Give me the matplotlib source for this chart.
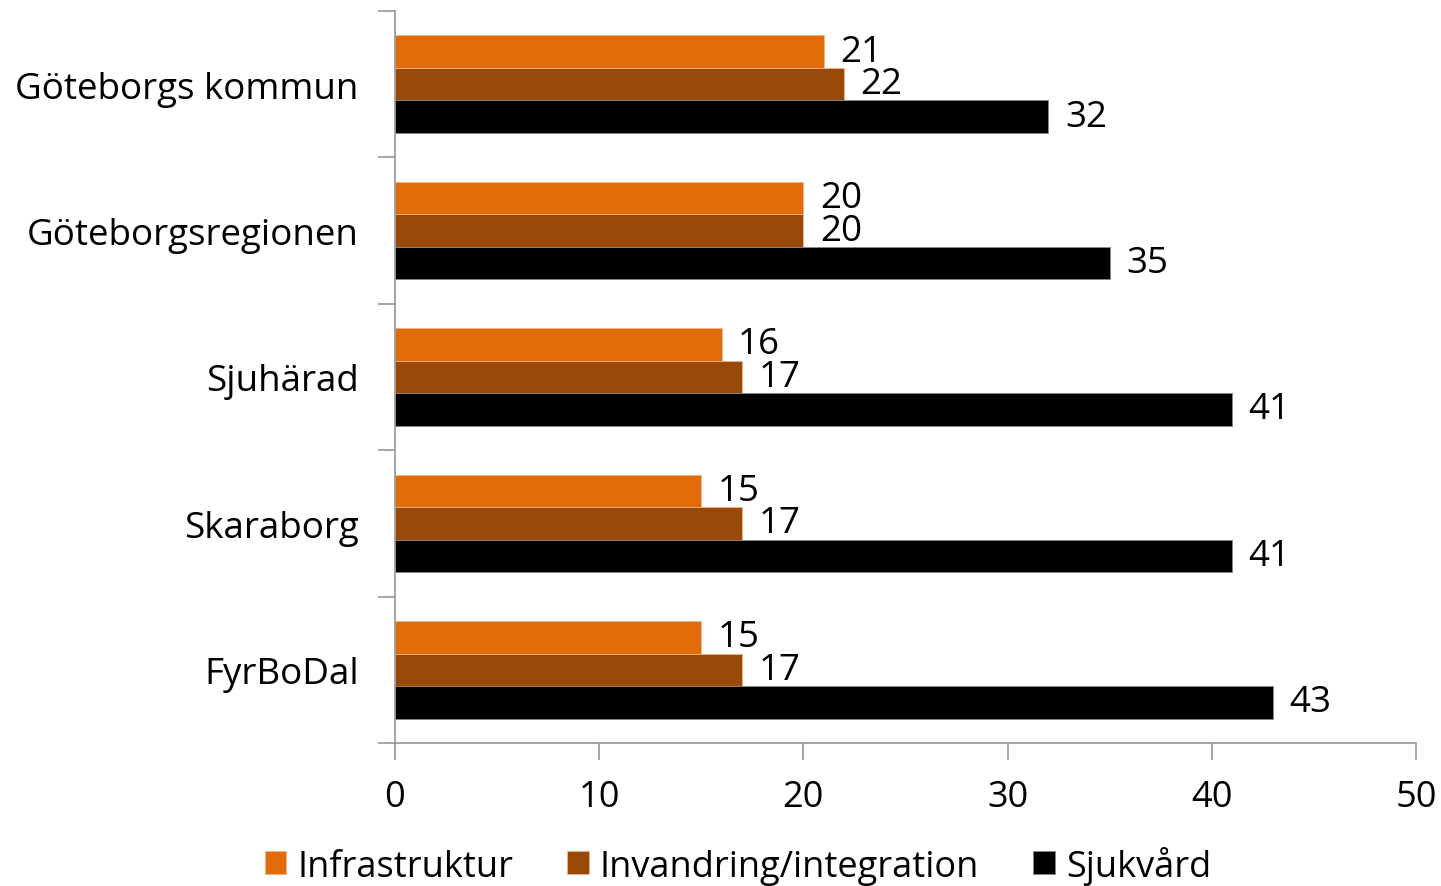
import numpy as np
import matplotlib.pyplot as plt
from matplotlib.ticker import FixedLocator

plt.rcParams['font.family'] = ['Open Sans', 'DejaVu Sans']

# data
regions = ['Göteborgs kommun', 'Göteborgsregionen', 'Sjuhärad', 'Skaraborg', 'FyrBoDal']
infrastruktur = [21, 20, 16, 15, 15]
invandring = [22, 20, 17, 17, 17]
sjukvard = [32, 35, 41, 41, 43]
series_names = ['Infrastruktur', 'Invandring/integration', 'Sjukvård']
colors = ['#E36C0A', '#984807', '#000000']

fig = plt.figure(figsize=(14.41, 8.87), dpi=100)
ax = fig.add_axes([0.2741, 0.1612, 0.7086, 0.8253])

y = np.arange(len(regions))
h = 0.222
for i, (vals, name, c) in enumerate(zip([infrastruktur, invandring, sjukvard], series_names, colors)):
    pos = y + (i - 1) * h
    ax.barh(pos, vals, height=h, color=c, edgecolor='#F2B486' if i < 2 else '#888888',
            linewidth=0.6, label=name)
    for p, v in zip(pos, vals):
        ax.text(v + 0.8, p, str(v), va='center', ha='left', fontsize=26.5, color='#000000')

ax.set_xlim(0, 50)
ax.set_ylim(len(regions) - 0.5, -0.5)
ax.set_xticks(range(0, 51, 10))
ax.set_yticks(y)
ax.set_yticklabels(regions)
ax.yaxis.set_minor_locator(FixedLocator(np.arange(-0.5, len(regions), 1.0)))

for s in ['top', 'right']:
    ax.spines[s].set_visible(False)
for s in ['left', 'bottom']:
    ax.spines[s].set_color('#969696')
    ax.spines[s].set_linewidth(1.2)

ax.tick_params(axis='y', which='major', length=0, pad=26, labelsize=26.5)
ax.tick_params(axis='y', which='minor', length=12, width=1.2, color='#969696', direction='out')
ax.tick_params(axis='x', which='major', length=12, width=1.2, color='#969696', direction='out',
               labelsize=26, pad=14)

handles, labels = ax.get_legend_handles_labels()
fig.legend(handles, labels, loc='lower center', ncol=3, frameon=False, fontsize=26,
           handlelength=0.6, handleheight=0.6, handletextpad=0.3, columnspacing=1.5,
           bbox_to_anchor=(0.512, -0.035))

fig.savefig('out.png', dpi=100)
